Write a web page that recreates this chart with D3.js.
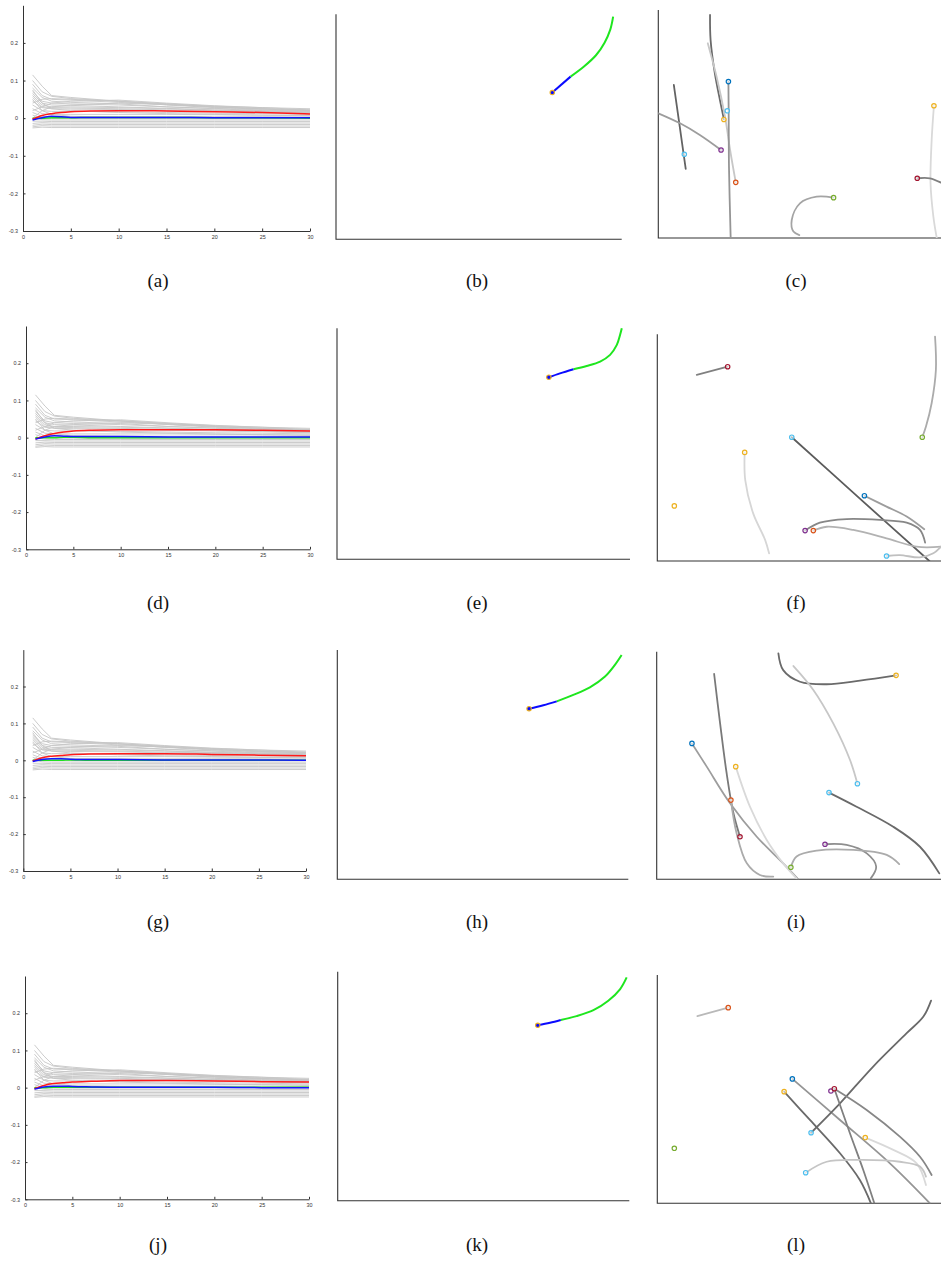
<!DOCTYPE html>
<html>
<head>
<meta charset="utf-8">
<script src="https://d3js.org/d3.v7.min.js"></script>
<style>
body { margin: 0; background: #fff; }
</style>
</head>
<body>
<script>
// ---------- data: value traces (a, d, g, j) ----------
const steps = [1, 2, 3, 5, 10, 15, 20, 25, 30];
const greyRuns = [
  [0.115, 0.085, 0.060, 0.055, 0.045, 0.038, 0.032, 0.028, 0.025],
  [0.100, 0.070, 0.058, 0.052, 0.045, 0.035, 0.028, 0.024, 0.022],
  [0.090, 0.060, 0.050, 0.048, 0.042, 0.036, 0.030, 0.025, 0.020],
  [0.080, 0.055, 0.045, 0.042, 0.038, 0.030, 0.025, 0.020, 0.018],
  [0.070, 0.045, 0.040, 0.038, 0.035, 0.030, 0.026, 0.022, 0.018],
  [0.065, 0.040, 0.035, 0.034, 0.030, 0.026, 0.022, 0.019, 0.016],
  [0.060, 0.035, 0.030, 0.030, 0.028, 0.025, 0.021, 0.018, 0.015],
  [0.055, 0.030, 0.028, 0.027, 0.025, 0.022, 0.020, 0.017, 0.014],
  [0.045, 0.028, 0.025, 0.024, 0.023, 0.020, 0.018, 0.016, 0.013],
  [0.035, 0.020, 0.018, 0.018, 0.017, 0.015, 0.013, 0.012, 0.010],
  [0.025, 0.012, 0.010, 0.010, 0.010, 0.010, 0.009, 0.008, 0.007],
  [0.015, 0.005, 0.004, 0.004, 0.004, 0.004, 0.004, 0.004, 0.003],
  [0.008, 0.000, -0.001, -0.001, -0.001, -0.001, -0.001, -0.001, -0.001],
  [0.000, -0.004, -0.005, -0.005, -0.005, -0.005, -0.005, -0.005, -0.005],
  [-0.008, -0.008, -0.009, -0.009, -0.009, -0.009, -0.009, -0.009, -0.009],
  [-0.014, -0.012, -0.013, -0.013, -0.013, -0.013, -0.013, -0.013, -0.013],
  [-0.019, -0.016, -0.017, -0.017, -0.017, -0.017, -0.017, -0.017, -0.017],
  [-0.023, -0.020, -0.021, -0.021, -0.021, -0.021, -0.021, -0.021, -0.021],
  [-0.026, -0.024, -0.025, -0.025, -0.025, -0.025, -0.025, -0.025, -0.025],
  [0.000, 0.020, 0.030, 0.035, 0.040, 0.036, 0.030, 0.025, 0.020],
  [0.020, 0.030, 0.040, 0.045, 0.048, 0.040, 0.033, 0.028, 0.022],
  [0.040, 0.050, 0.052, 0.050, 0.045, 0.038, 0.030, 0.025, 0.020],
  [0.075, 0.040, 0.025, 0.020, 0.015, 0.012, 0.010, 0.008, 0.006],
  [0.050, 0.020, 0.010, 0.005, 0.003, 0.002, 0.001, 0.000, 0.000]
];
const meanSteps = [1, 2, 3, 4, 5, 7, 10, 15, 20, 25, 30];
const redA   = [-0.003, 0.007, 0.012, 0.015, 0.017, 0.019, 0.020, 0.019, 0.017, 0.015, 0.011];
const blueA  = [-0.005, 0.001, 0.005, 0.004, 0.002, 0.002, 0.002, 0.002, 0.001, 0.001, 0.001];
const greenA = [0.000, 0.000, 0.001, 0.001, 0.001, 0.002, 0.002, 0.002, 0.001, 0.001, 0.000];
const redD   = [-0.004, 0.005, 0.011, 0.015, 0.018, 0.020, 0.021, 0.021, 0.021, 0.020, 0.018];
const blueD  = [-0.004, 0.002, 0.005, 0.004, 0.003, 0.003, 0.003, 0.002, 0.002, 0.002, 0.002];
const greenD = [0.000, 0.000, 0.000, 0.001, 0.001, 0.000, 0.000, 0.000, 0.000, 0.000, 0.000];
const redG   = [-0.002, 0.007, 0.011, 0.013, 0.015, 0.017, 0.018, 0.018, 0.016, 0.014, 0.012];
const blueG  = [-0.003, 0.002, 0.004, 0.004, 0.003, 0.002, 0.002, 0.001, 0.001, 0.001, 0.000];
const greenG = [0.000, 0.000, 0.000, 0.000, 0.001, 0.000, 0.000, 0.000, 0.000, 0.000, 0.000];
const redJ   = [-0.003, 0.006, 0.011, 0.013, 0.015, 0.017, 0.019, 0.019, 0.018, 0.016, 0.015];
const blueJ  = [-0.004, 0.002, 0.004, 0.004, 0.003, 0.002, 0.001, 0.001, 0.001, 0.000, 0.000];
const greenJ = [0.000, 0.000, 0.001, 0.001, 0.001, 0.001, 0.001, 0.001, 0.001, 0.001, 0.001];
const yTicks = [-0.3, -0.2, -0.1, 0, 0.1, 0.2];
const xTicks = [0, 5, 10, 15, 20, 25, 30];

// ---------- data: single path (b, e, h, k), 0-100 units ----------
const blueB  = [[75.7, 65.2], [82.1, 72.3]];
const greenB = [[82.1, 72.3], [86.8, 76.8], [91.0, 81.8], [94.0, 87.4], [96.0, 93.2], [97.0, 99.0]];
const blueE  = [[72.3, 78.8], [76.1, 80.5], [80.7, 82.3]];
const greenE = [[80.7, 82.3], [85.2, 83.7], [89.8, 85.6], [93.2, 88.5], [95.5, 92.8], [96.6, 97.1], [97.2, 100]];
const blueH  = [[65.9, 74.4], [70.8, 75.9], [75.4, 77.6]];
const greenH = [[75.4, 77.6], [81.1, 80.4], [86.8, 83.7], [92.0, 88.4], [95.4, 93.5], [97.7, 97.8]];
const blueK  = [[68.6, 76.6], [72.8, 77.7], [76.5, 78.9]];
const greenK = [[76.5, 78.9], [81.9, 80.6], [87.7, 83.2], [92.8, 87.3], [96.8, 92.3], [99.1, 97.5]];

// ---------- data: many agents (c, f, i, l), 0-100 units ----------
// tone: 0 = faint track, 1 = strong track
const tracksC = [
  { tone: 0.9,  pts: [[5.5, 67.1], [7.6, 48.7], [9.7, 30.3]] },
  { tone: 0.5,  pts: [[0, 54.7], [7.7, 50.3], [14.7, 45.2], [22.2, 38.6]] },
  { tone: 0.85, pts: [[18.3, 97.8], [18.5, 86.8], [20.0, 72.2], [21.8, 60.5], [23.2, 52.0]] },
  { tone: 0.2,  pts: [[17.5, 85.4], [20.6, 70.8], [23.6, 53.2], [25.4, 38.6], [27.4, 24.4]] },
  { tone: 0.55, pts: [[24.8, 68.6], [24.9, 53.2], [25.0, 31.3], [25.6, 0]] },
  { tone: 0.45, pts: [[62.0, 17.7], [56.0, 18.1], [50.1, 15.2], [47.2, 7.9], [47.8, 2.8], [49.9, 1.3]] },
  { tone: 0.08, pts: [[97.5, 58.0], [96.7, 43.0], [96.3, 24.0], [97.3, 9.4], [98.5, 0]] },
  { tone: 0.7,  pts: [[91.6, 26.2], [96.1, 26.2], [100, 24.3]] }
];
const agentsC = [[9.2, 36.7, 5], [22.2, 38.6, 3], [23.2, 52.0, 2], [27.4, 24.4, 1], [24.8, 68.6, 0],
  [24.4, 55.8, 5], [62.0, 17.7, 4], [97.5, 58.0, 2], [91.6, 26.2, 6]];

const tracksF = [
  { tone: 0.7,  pts: [[13.9, 82.1], [24.8, 85.7]] },
  { tone: 0.4,  pts: [[97.9, 99.0], [98.2, 84.3], [96.7, 69.6], [94.7, 59.3], [93.4, 54.6]] },
  { tone: 0.95, pts: [[47.4, 54.6], [71.6, 27.3], [95.9, 0]] },
  { tone: 0.1,  pts: [[30.8, 47.9], [31.0, 35.7], [33.8, 21.0], [38.0, 9.3], [39.4, 3.4]] },
  { tone: 0.5,  pts: [[73.0, 28.8], [80.8, 24.0], [87.9, 19.6], [94.1, 14.0]] },
  { tone: 0.65, pts: [[52.1, 13.4], [57.3, 16.9], [66.7, 18.5], [78.5, 18.1], [87.9, 16.9], [92.6, 13.7], [94.4, 8.1]] },
  { tone: 0.35, pts: [[55.0, 13.4], [59.7, 15.1], [69.1, 13.7], [80.8, 10.0], [91.4, 6.3], [100, 6.3]] },
  { tone: 0.25, pts: [[80.8, 2.2], [85.5, 2.6], [92.6, 1.6], [97.3, 3.4], [100, 6.3]] }
];
const agentsF = [[24.8, 85.7, 6], [93.4, 54.6, 4], [47.4, 54.6, 5], [30.8, 47.9, 2], [6.0, 24.3, 2],
  [73.0, 28.8, 0], [52.1, 13.4, 3], [55.0, 13.4, 1], [80.8, 2.2, 5]];

const tracksI = [
  { tone: 0.85, pts: [[42.8, 99.3], [44.5, 91.9], [50.4, 86.8], [59.8, 85.7], [71.5, 87.3], [84.2, 89.6]] },
  { tone: 0.2,  pts: [[48.1, 93.7], [55.1, 83.2], [62.1, 68.5], [68.0, 52.4], [70.6, 42.0]] },
  { tone: 0.75, pts: [[20.2, 90.2], [22.3, 68.5], [24.6, 46.6], [27.0, 29.0], [29.3, 18.7]] },
  { tone: 0.5,  pts: [[12.4, 59.7], [17.6, 49.5], [25.8, 33.4], [35.2, 18.7], [44.5, 7.0], [49.8, 0]] },
  { tone: 0.4,  pts: [[26.1, 34.8], [28.1, 20.2], [31.7, 7.0], [36.3, 1.9], [41.0, 1.2]] },
  { tone: 0.08, pts: [[27.8, 49.5], [32.8, 31.9], [38.7, 17.3], [44.5, 7.0], [49.2, 0.4]] },
  { tone: 0.85, pts: [[60.6, 38.1], [70.3, 31.9], [83.2, 23.1], [92.6, 14.3], [99.4, 2.6]] },
  { tone: 0.6,  pts: [[59.2, 15.4], [66.8, 15.1], [73.9, 11.4], [77.2, 5.6], [75.3, 0.4]] },
  { tone: 0.4,  pts: [[47.2, 5.3], [49.2, 10.0], [56.3, 12.6], [69.2, 12.9], [80.9, 10.7], [85.3, 6.7]] }
];
const agentsI = [[84.2, 89.6, 2], [70.6, 42.0, 5], [29.3, 18.7, 6], [12.4, 59.7, 0], [26.1, 34.8, 1],
  [27.8, 49.5, 2], [60.6, 38.1, 5], [59.2, 15.4, 3], [47.2, 5.3, 4]];

const tracksL = [
  { tone: 0.3,  pts: [[14.1, 82.0], [25.0, 85.7]] },
  { tone: 0.55, pts: [[47.6, 54.5], [64.4, 36.5], [82.0, 17.5], [96.1, 0]] },
  { tone: 0.85, pts: [[44.7, 48.9], [53.8, 36.5], [64.4, 21.9], [71.4, 10.2], [75.3, 0]] },
  { tone: 0.85, pts: [[54.2, 30.9], [64.4, 43.8], [76.1, 59.9], [87.9, 74.5], [93.8, 81.8], [96.5, 88.8]] },
  { tone: 0.7,  pts: [[62.4, 50.2], [67.9, 30.7], [72.6, 14.6], [76.5, 0]] },
  { tone: 0.65, pts: [[62.4, 50.2], [73.8, 40.9], [85.5, 29.2], [92.6, 20.4], [96.7, 12.4]] },
  { tone: 0.08, pts: [[73.3, 28.8], [83.2, 23.4], [91.4, 17.5], [94.7, 8.0]] },
  { tone: 0.22, pts: [[52.3, 13.4], [59.7, 18.2], [71.4, 19.0], [85.5, 18.2], [92.6, 16.1], [94.7, 11.7]] }
];
const agentsL = [[25.0, 85.7, 1], [6.0, 24.1, 4], [47.6, 54.5, 0], [44.7, 48.9, 2], [54.2, 30.9, 5],
  [61.2, 49.2, 3], [62.4, 50.2, 6], [73.3, 28.8, 2], [52.3, 13.4, 5]];

const captions = ["(a)", "(b)", "(c)", "(d)", "(e)", "(f)", "(g)", "(h)", "(i)", "(j)", "(k)", "(l)"];

// ---------- layout ----------
const W = 941, H = 1265;
const svg = d3.select("body").append("svg").attr("width", W).attr("height", H);

// panel boxes: left, right, top, bottom
const traceBoxes = [[23, 310, 5.3, 231], [26, 310, 326, 549.3], [23.3, 306, 649.6, 871], [25, 309, 976, 1199.3]];
const pathBoxes  = [[336, 621.7, 14.3, 239.3], [337, 630, 328.3, 559.3], [337.3, 628.3, 650, 879.3], [337.7, 629.3, 971.7, 1200.7]];
const agentBoxes = [[658.3, 941, 10, 238], [657.3, 941, 334.3, 561], [656.7, 941, 651.7, 879.3], [657.3, 941, 975, 1203.3]];
const captionY = [287, 609, 928, 1251];
const captionX = [158, 477, 796];

const agentColour = d3.scaleOrdinal()
  .domain([0, 1, 2, 3, 4, 5, 6])
  .range(["#0072BD", "#D95319", "#EDB120", "#7E2F8E", "#77AC30", "#4DBEEE", "#A2142F"]);
const toneColour = d3.scaleLinear().domain([0, 1]).range(["#e4e4e4", "#555555"]);

// ---------- (a, d, g, j) ----------
function drawTraces(box, red, blue, green) {
  const [l, r, t, b] = box;
  const x = d3.scaleLinear().domain([0, 30]).range([l, r]);
  const y = d3.scaleLinear().domain([-0.3, 0.3]).range([b, t]);
  const g = svg.append("g");

  const run = d3.line().x((d, i) => x(steps[i])).y(d => y(d));
  g.selectAll(".grey").data(greyRuns).enter().append("path")
    .attr("d", run)
    .attr("fill", "none")
    .attr("stroke", "#c6c6c6")
    .attr("stroke-width", 0.9);

  const mean = d3.line().x((d, i) => x(meanSteps[i])).y(d => y(d)).curve(d3.curveMonotoneX);
  [[green, "#1ee01e"], [red, "#ff1a1a"], [blue, "#1414ff"]].forEach(([vals, c]) => {
    g.append("path").attr("d", mean(vals))
      .attr("fill", "none").attr("stroke", c).attr("stroke-width", 1.5);
  });

  const yAxis = d3.axisLeft(y).tickValues(yTicks).tickSize(-2.5).tickSizeOuter(0).tickPadding(5)
    .tickFormat(d => d === 0 ? "0" : d.toFixed(1));
  const xAxis = d3.axisBottom(x).tickValues(xTicks).tickSize(-2.5).tickSizeOuter(0).tickPadding(4);
  [[yAxis, `translate(${l},0)`], [xAxis, `translate(0,${b})`]].forEach(([ax, tr]) => {
    const a = g.append("g").attr("transform", tr).call(ax);
    a.select(".domain").attr("stroke", "#333").attr("stroke-width", 1);
    a.selectAll(".tick line").attr("stroke", "#333");
    a.selectAll("text").attr("font-family", "Liberation Sans, Arial, sans-serif")
      .attr("font-size", 5.4).attr("fill", "#333");
  });
}

// ---------- (b, e, h, k) ----------
function frame(box) {
  const [l, r, t, b] = box;
  const x = d3.scaleLinear().domain([0, 100]).range([l, r]);
  const y = d3.scaleLinear().domain([0, 100]).range([b, t]);
  const g = svg.append("g");
  g.append("path")
    .attr("d", d3.line()([[x(0), y(100)], [x(0), y(0)], [x(100), y(0)]]))
    .attr("fill", "none").attr("stroke", "#333").attr("stroke-width", 1.1);
  return { x, y, g };
}

function drawPath(box, blue, green) {
  const { x, y, g } = frame(box);
  const line = d3.line().x(d => x(d[0])).y(d => y(d[1])).curve(d3.curveCatmullRom);
  g.append("path").attr("d", line(green)).attr("fill", "none")
    .attr("stroke", "#1ee61e").attr("stroke-width", 2);
  g.append("path").attr("d", line(blue)).attr("fill", "none")
    .attr("stroke", "#0a0aff").attr("stroke-width", 2);
  g.append("circle").attr("cx", x(blue[0][0])).attr("cy", y(blue[0][1])).attr("r", 2.2)
    .attr("fill", "#0a0aff").attr("stroke", "#EDB120").attr("stroke-width", 1.1);
}

// ---------- (c, f, i, l) ----------
let clipId = 0;
function drawAgents(box, tracks, agents) {
  const { x, y, g } = frame(box);
  const id = "clip" + (clipId++);
  svg.append("clipPath").attr("id", id).append("rect")
    .attr("x", box[0]).attr("y", box[2]).attr("width", box[1] - box[0]).attr("height", box[3] - box[2]);
  const inner = g.append("g").attr("clip-path", `url(#${id})`);
  const line = d3.line().x(d => x(d[0])).y(d => y(d[1])).curve(d3.curveCatmullRom);
  inner.selectAll(".track").data(tracks).enter().append("path")
    .attr("d", d => line(d.pts))
    .attr("fill", "none")
    .attr("stroke", d => toneColour(d.tone))
    .attr("stroke-width", 1.8)
    .attr("stroke-linecap", "round");
  g.selectAll(".agent").data(agents).enter().append("circle")
    .attr("cx", d => x(d[0])).attr("cy", d => y(d[1])).attr("r", 2.2)
    .attr("fill", "#fff").attr("fill-opacity", 0.6)
    .attr("stroke", d => agentColour(d[2])).attr("stroke-width", 1.2);
}

drawTraces(traceBoxes[0], redA, blueA, greenA);
drawTraces(traceBoxes[1], redD, blueD, greenD);
drawTraces(traceBoxes[2], redG, blueG, greenG);
drawTraces(traceBoxes[3], redJ, blueJ, greenJ);

drawPath(pathBoxes[0], blueB, greenB);
drawPath(pathBoxes[1], blueE, greenE);
drawPath(pathBoxes[2], blueH, greenH);
drawPath(pathBoxes[3], blueK, greenK);

drawAgents(agentBoxes[0], tracksC, agentsC);
drawAgents(agentBoxes[1], tracksF, agentsF);
drawAgents(agentBoxes[2], tracksI, agentsI);
drawAgents(agentBoxes[3], tracksL, agentsL);

svg.selectAll(".caption").data(captions).enter().append("text")
  .attr("x", (d, i) => captionX[i % 3])
  .attr("y", (d, i) => captionY[Math.floor(i / 3)])
  .attr("text-anchor", "middle")
  .attr("font-family", "Liberation Serif, Times New Roman, serif")
  .attr("font-size", 19)
  .attr("fill", "#111")
  .text(d => d);
</script>
</body>
</html>
